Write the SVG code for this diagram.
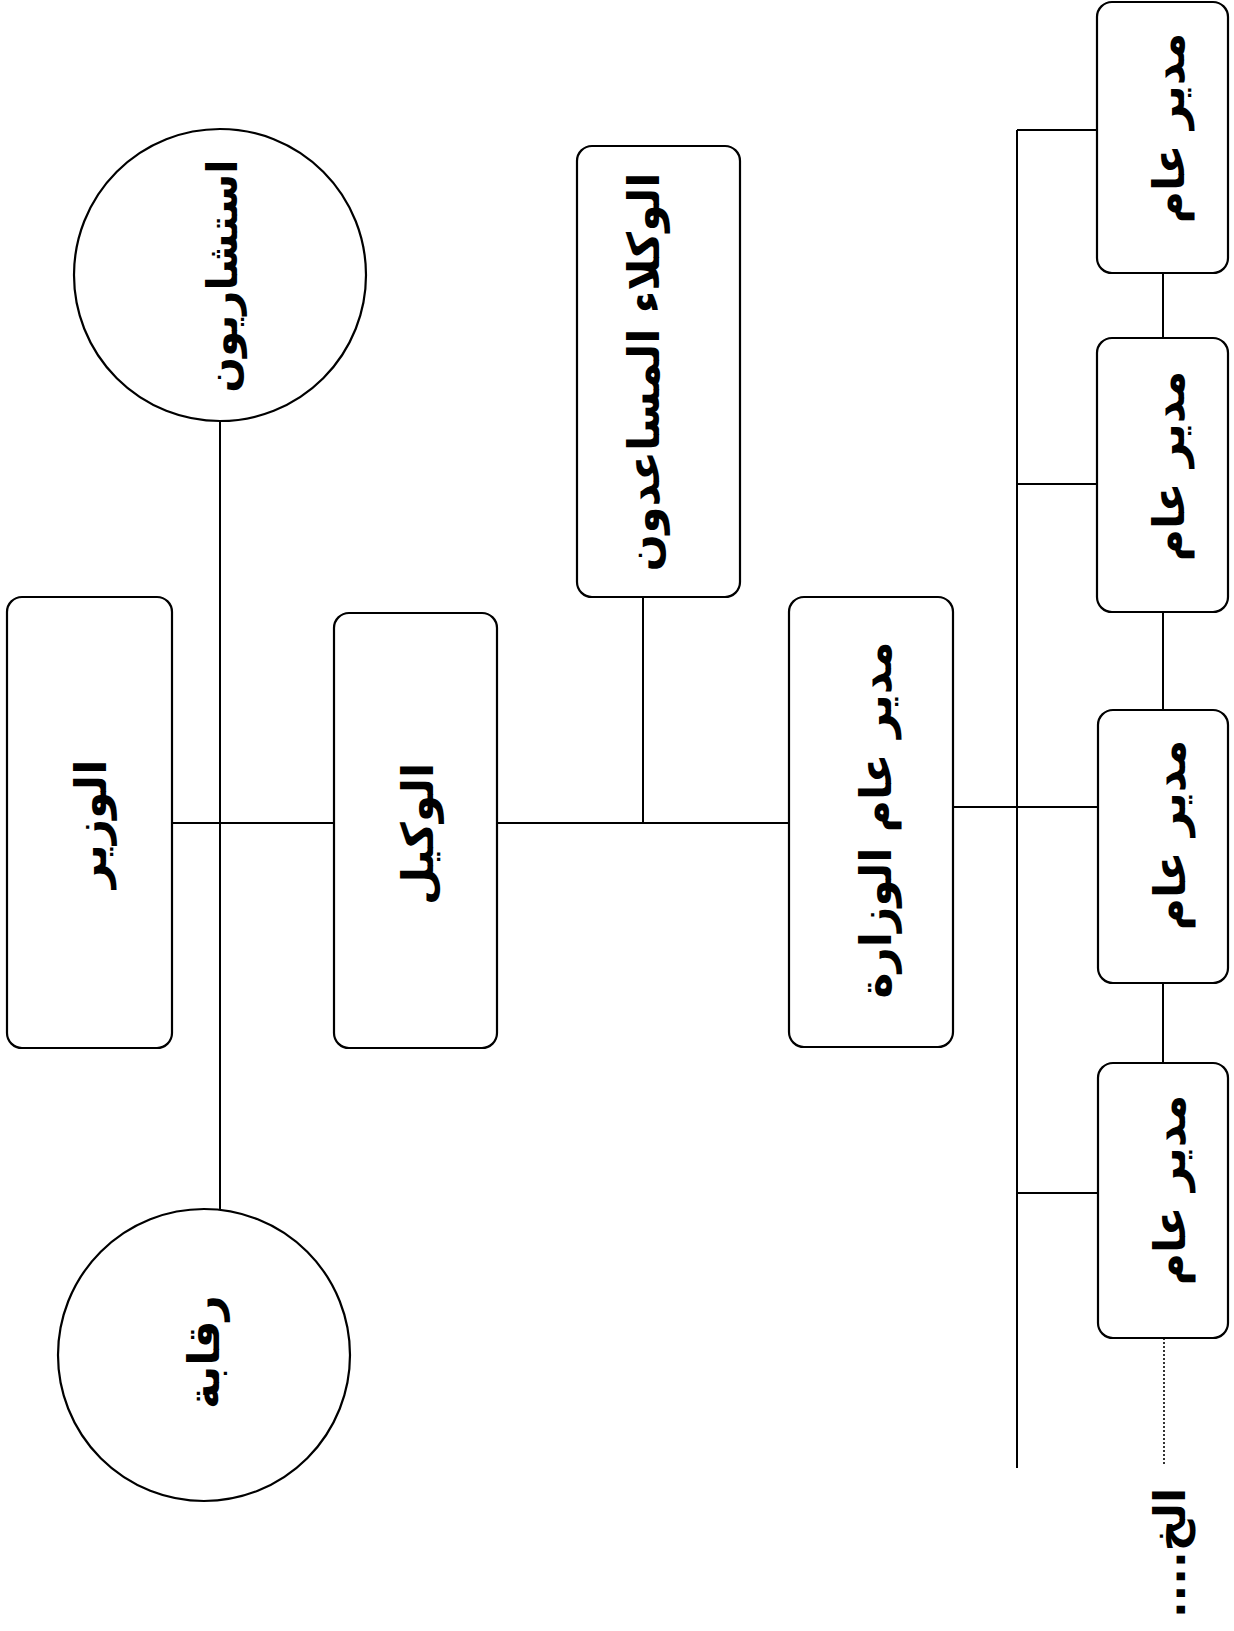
<svg xmlns="http://www.w3.org/2000/svg" width="1234" height="1631" viewBox="0 0 1234 1631">
<style>
.box{fill:#fff;stroke:#000;stroke-width:2.2}
.circ{fill:#fff;stroke:#000;stroke-width:2.2}
.ln{stroke:#000;stroke-width:2;fill:none}
.dot{stroke:#000;stroke-width:1.6;stroke-dasharray:2 2;fill:none}
.t{font-family:"DejaVu Sans",sans-serif;font-weight:bold;text-anchor:middle;dominant-baseline:central;fill:#000;direction:rtl}
</style>
<rect width="1234" height="1631" fill="#fff"/>
<g id="connectors">
<line class="ln" x1="220" y1="420" x2="220" y2="1209"/>
<line class="ln" x1="172" y1="823" x2="334" y2="823"/>
<line class="ln" x1="480" y1="823" x2="789" y2="823"/>
<line class="ln" x1="643" y1="597" x2="643" y2="823"/>
<line class="ln" x1="953" y1="807" x2="1098" y2="807"/>
<line class="ln" x1="1017" y1="130" x2="1017" y2="1468"/>
<line class="ln" x1="1017" y1="130" x2="1097" y2="130"/>
<line class="ln" x1="1017" y1="484" x2="1097" y2="484"/>
<line class="ln" x1="1017" y1="1193" x2="1098" y2="1193"/>
<line class="ln" x1="1163" y1="273" x2="1163" y2="338"/>
<line class="ln" x1="1163" y1="612" x2="1163" y2="710"/>
<line class="ln" x1="1163" y1="967" x2="1163" y2="1063"/>
<line class="dot" x1="1164" y1="1322" x2="1164" y2="1465"/>
</g>
<g id="advisors">
<circle class="circ" cx="220" cy="275" r="146"/>
<text class="t" font-size="42" transform="translate(222,276) rotate(-90)">استشاريون</text>
</g>
<g id="oversight">
<circle class="circ" cx="204" cy="1355" r="146"/>
<text class="t" font-size="44" transform="translate(203,1352) rotate(-90)">رقابة</text>
</g>
<g id="minister">
<rect class="box" x="7" y="597" width="165" height="451" rx="15"/>
<text class="t" font-size="44" transform="translate(90,824) rotate(-90)">الوزير</text>
</g>
<g id="deputy">
<rect class="box" x="334" y="613" width="163" height="435" rx="15"/>
<text class="t" font-size="44" transform="translate(417,834) rotate(-90)">الوكيل</text>
</g>
<g id="assistant-deputies">
<rect class="box" x="577" y="146" width="163" height="451" rx="15"/>
<text class="t" font-size="44" transform="translate(643,372) rotate(-90)">الوكلاء المساعدون</text>
</g>
<g id="ministry-dg">
<rect class="box" x="789" y="597" width="164" height="450" rx="15"/>
<text class="t" font-size="44" transform="translate(875,820) rotate(-90)">مدير  عام الوزارة</text>
</g>
<g id="dg1">
<rect class="box" x="1097" y="2" width="131" height="271" rx="15"/>
<text class="t" font-size="44" transform="translate(1168,128) rotate(-90)">مدير  عام</text>
</g>
<g id="dg2">
<rect class="box" x="1097" y="338" width="131" height="274" rx="15"/>
<text class="t" font-size="44" transform="translate(1168,466) rotate(-90)">مدير  عام</text>
</g>
<g id="dg3">
<rect class="box" x="1098" y="710" width="130" height="273" rx="15"/>
<text class="t" font-size="44" transform="translate(1169,835) rotate(-90)">مدير  عام</text>
</g>
<g id="dg4">
<rect class="box" x="1098" y="1063" width="130" height="275" rx="15"/>
<text class="t" font-size="44" transform="translate(1169,1190) rotate(-90)">مدير  عام</text>
</g>
<g id="etc">
<text class="t" font-size="44" transform="translate(1169,1553) rotate(-90)">الخ....</text>
</g>
</svg>
